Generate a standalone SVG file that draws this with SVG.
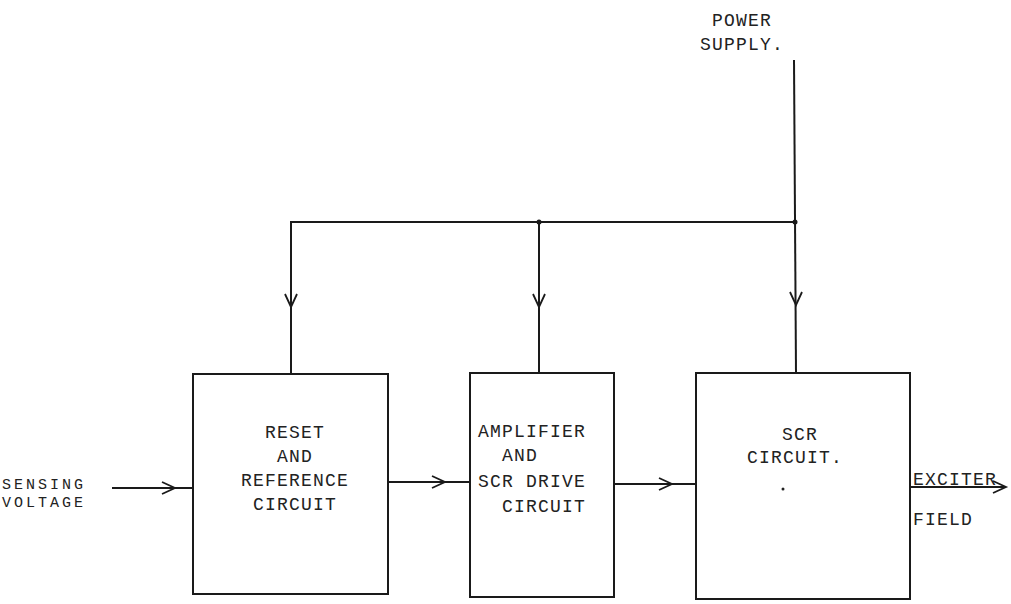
<svg xmlns="http://www.w3.org/2000/svg" xmlns:xlink="http://www.w3.org/1999/xlink" width="1011" height="604" viewBox="0 0 1011 604">
<style>
.box{fill:none;stroke:#1a1a1a;stroke-width:2}
.ln{fill:none;stroke:#1a1a1a;stroke-width:2}
.t{font-family:"Liberation Mono","DejaVu Sans Mono",monospace;font-size:18px;letter-spacing:1.2px;fill:#222}
.s{font-size:15px;letter-spacing:3px}
</style>
<defs>
<path id="chev" d="M-13,-6 L0,0 L-13,6" fill="none" stroke="#1a1a1a" stroke-width="1.8"/>
</defs>
<rect width="1011" height="604" fill="#fff"/>
<g id="connectors">
<line class="ln" x1="794" y1="60" x2="796" y2="374"/>
<polyline class="ln" points="291,374 291,222 796,222"/>
<line class="ln" x1="539" y1="222" x2="539" y2="373"/>
<circle cx="539" cy="222" r="2.5" fill="#1a1a1a"/>
<circle cx="795" cy="222" r="2.5" fill="#1a1a1a"/>
<use xlink:href="#chev" transform="translate(291,307) rotate(90)"/>
<use xlink:href="#chev" transform="translate(539,307) rotate(90)"/>
<use xlink:href="#chev" transform="translate(796,305) rotate(90)"/>
<line class="ln" x1="112" y1="488" x2="193" y2="488"/>
<use xlink:href="#chev" transform="translate(175,488)"/>
<line class="ln" x1="388" y1="482" x2="470" y2="482"/>
<use xlink:href="#chev" transform="translate(445,482)"/>
<line class="ln" x1="614" y1="484" x2="696" y2="484"/>
<use xlink:href="#chev" transform="translate(672,484)"/>
<line class="ln" x1="910" y1="487" x2="1006" y2="487"/>
<use xlink:href="#chev" transform="translate(1006,487)"/>
</g>
<g id="sensing">
<text class="t s" x="2" y="489">SENSING</text>
<text class="t s" x="2" y="507">VOLTAGE</text>
</g>
<g id="power">
<text class="t" x="712" y="26">POWER</text>
<text class="t" x="700" y="50">SUPPLY.</text>
</g>
<g id="reset">
<rect class="box" x="193" y="374" width="195" height="220"/>
<text class="t" text-anchor="middle" x="295" y="438">RESET</text>
<text class="t" text-anchor="middle" x="295" y="462">AND</text>
<text class="t" text-anchor="middle" x="295" y="486">REFERENCE</text>
<text class="t" text-anchor="middle" x="295" y="510">CIRCUIT</text>
</g>
<g id="amplifier">
<rect class="box" x="470" y="373" width="144" height="224"/>
<text class="t" x="478" y="437">AMPLIFIER</text>
<text class="t" x="502" y="461">AND</text>
<text class="t" x="478" y="487">SCR DRIVE</text>
<text class="t" x="502" y="512">CIRCUIT</text>
</g>
<g id="scr">
<rect class="box" x="696" y="373" width="214" height="226"/>
<text class="t" x="782" y="440">SCR</text>
<text class="t" x="747" y="463">CIRCUIT.</text>
<circle cx="783" cy="489" r="1.5" fill="#222"/>
</g>
<g id="exciter">
<text class="t" x="913" y="485">EXCITER</text>
<text class="t" x="913" y="525">FIELD</text>
</g>
</svg>
